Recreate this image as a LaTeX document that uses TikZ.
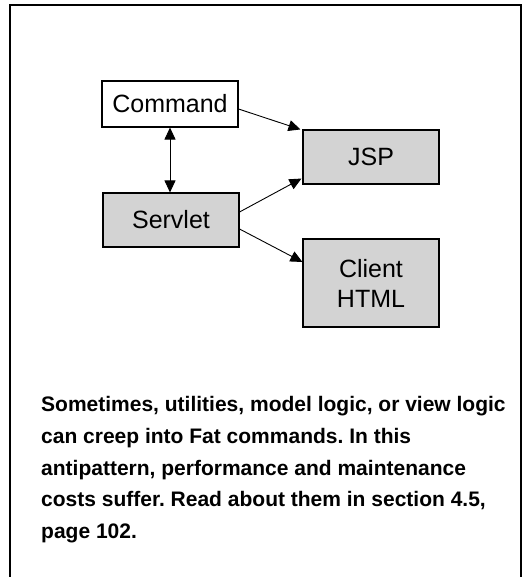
\documentclass[tikz,border=0pt]{standalone}
\usepackage{fontspec}
\setmainfont{Liberation Sans}
\usetikzlibrary{arrows.meta}
\definecolor{boxgray}{RGB}{211,211,211}
\begin{document}
\frenchspacing
\begin{tikzpicture}[x=1pt,y=-1pt,
  box/.style={draw, line width=1.1pt, minimum width=136pt, inner sep=0pt, font=\fontsize{25}{30}\selectfont, align=center},
  grbox/.style={box, fill=boxgray},
  conn/.style={line width=0.9pt, -{Triangle[length=12pt,width=11pt]}},
  dconn/.style={line width=0.9pt, {Triangle[length=12pt,width=11pt]}-{Triangle[length=12pt,width=11pt]}},
  caption/.style={anchor=base west, inner sep=0pt, font=\bfseries\fontsize{21}{32}\selectfont}]
\useasboundingbox (0,0) rectangle (531,577);
\draw[line width=2.7pt] (10,580) -- (10,5) -- (521,5) -- (521,580);
\node[box, minimum height=46pt] (cmd) at (170,104) {Command};
\node[grbox, minimum height=54pt] (jsp) at (371,157) {JSP};
\node[grbox, minimum height=54pt] (srv) at (171,220) {Servlet};
\node[grbox, minimum height=88pt] (cli) at (371,283) {Client\\HTML};
\draw[conn] ([yshift=-5pt]cmd.east) -- ([xshift=-2pt]jsp.north west);
\draw[dconn] (cmd.south) -- (cmd.south |- srv.north);
\draw[conn] ([yshift=8pt]srv.east) -- ([xshift=-1pt,yshift=6pt]jsp.south west);
\draw[conn] ([yshift=-9pt]srv.east) -- ([yshift=21pt]cli.west);
\node[caption] (t1) at (41,411.7) {Sometimes, utilities, model logic, or view logic};
\node[caption] (t2) at (41,443.4) {can creep into Fat commands. In this};
\node[caption] (t3) at (41,475.1) {antipattern, performance and maintenance};
\node[caption] (t4) at (41,506.8) {costs suffer. Read about them in section 4.5,};
\node[caption] (t5) at (41,538.5) {page 102.};
\end{tikzpicture}
\end{document}
